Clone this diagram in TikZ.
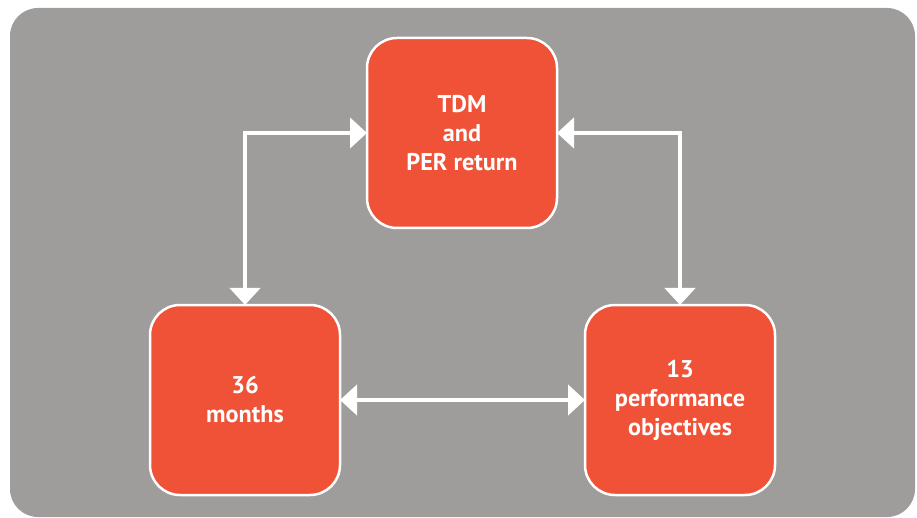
\documentclass[tikz,border=0pt]{standalone}
\usepackage{fontspec}
\setmainfont{PT Sans}
\usetikzlibrary{arrows.meta}
\definecolor{bggray}{HTML}{9E9D9B}
\definecolor{boxred}{HTML}{EF5237}
\tikzset{
  box/.style={draw=white, line width=2.5pt, fill=boxred, rounded corners=30pt,
    minimum width=190pt, minimum height=190pt, inner sep=0pt, outer sep=0pt,
    align=center, text=white, font=\fontsize{24.2}{29}\selectfont\bfseries},
  conn/.style={draw=white, line width=4.5pt,
    {Triangle[length=17pt,width=30pt]}-{Triangle[length=17pt,width=30pt]}}
}
\begin{document}
\begin{tikzpicture}[x=1pt,y=-1pt]
\useasboundingbox (0,0) rectangle (917,518);
\fill[bggray, rounded corners=28pt] (10,8) rectangle (915,517);
\node[box] (top) at (462,133) {TDM\\and\\PER return};
\node[box] (bl) at (245,400) {36\\months};
\node[box] (br) at (680,400) {13\\performance\\objectives};
\draw[conn] (bl.north) |- (top.west);
\draw[conn] (top.east) -| (br.north);
\draw[conn] (bl.east) -- (br.west);
\end{tikzpicture}
\end{document}
